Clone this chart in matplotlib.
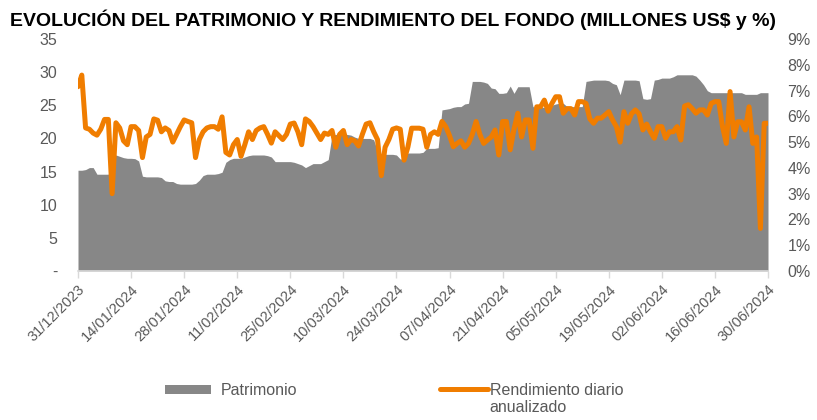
import matplotlib
matplotlib.use("Agg")
import matplotlib.pyplot as plt
import matplotlib.dates as mdates
from matplotlib.patches import Patch
from matplotlib.lines import Line2D
import pandas as pd

plt.rcParams['font.family'] = ['Liberation Sans', 'DejaVu Sans']

dates = pd.date_range('2023-12-31', '2024-06-30', freq='D')

patrimonio = [
    15.2, 15.2, 15.3, 15.6, 15.6, 14.6, 14.6, 14.6, 14.6, 17.5,
    17.5, 17.3, 17.1, 17.0, 17.0, 16.95, 16.6, 14.3, 14.2, 14.2,
    14.2, 14.2, 14.1, 13.6, 13.5, 13.5, 13.2, 13.1, 13.1, 13.1,
    13.1, 13.2, 13.7, 14.4, 14.6, 14.6, 14.6, 14.7, 14.9, 16.4,
    16.8, 17.0, 17.0, 17.0, 17.2, 17.4, 17.5, 17.5, 17.5, 17.5,
    17.4, 17.2, 16.5, 16.5, 16.5, 16.5, 16.5, 16.4, 16.2, 16.0,
    15.6, 15.9, 16.2, 16.2, 16.2, 16.5, 16.8, 20.5, 20.6, 20.6,
    20.6, 20.6, 20.5, 20.2, 20.0, 20.0, 20.0, 20.0, 19.8, 18.0,
    17.6, 17.6, 17.6, 17.6, 17.5, 16.9, 16.8, 17.8, 17.8, 17.8,
    17.8, 17.9, 18.5, 18.5, 18.5, 18.6, 24.3, 24.4, 24.5, 24.7,
    24.8, 24.8, 25.2, 25.3, 28.6, 28.6, 28.6, 28.5, 28.3, 27.6,
    27.5, 26.8, 26.8, 26.9, 27.9, 26.8, 27.8, 27.8, 27.8, 27.8,
    24.8, 24.7, 24.7, 24.7, 24.8, 25.0, 25.2, 25.3, 25.3, 24.8,
    24.8, 24.8, 24.8, 24.8, 28.6, 28.7, 28.8, 28.8, 28.8, 28.8,
    28.7, 28.3, 28.1, 26.6, 28.8, 28.8, 28.8, 28.8, 28.7, 26.0,
    25.9, 26.0, 28.8, 28.9, 29.1, 29.1, 29.1, 29.3, 29.6, 29.6,
    29.6, 29.6, 29.6, 29.4, 28.8, 28.1, 27.2, 26.9, 26.9, 26.9,
    26.9, 26.9, 26.9, 26.9, 26.9, 26.9, 26.65, 26.65, 26.65, 26.65,
    26.9, 26.9, 26.9,
]

rendimiento = [
    7.15, 7.6, 5.55, 5.5, 5.35, 5.27, 5.5, 5.88, 5.88, 3.0,
    5.75, 5.55, 5.05, 4.9, 5.6, 5.6, 5.45, 4.4, 5.2, 5.3,
    5.9, 5.85, 5.4, 5.55, 5.45, 5.0, 5.3, 5.6, 5.86, 5.8,
    5.75, 4.4, 5.1, 5.4, 5.55, 5.6, 5.6, 5.5, 5.98, 4.6,
    4.5, 4.9, 5.1, 4.45, 4.9, 5.4, 5.1, 5.45, 5.55, 5.6,
    5.3, 4.96, 5.4, 5.25, 5.1, 5.3, 5.7, 5.74, 5.4, 4.9,
    5.9, 5.8, 5.6, 5.35, 5.1, 5.35, 5.3, 5.45, 4.8, 5.3,
    5.45, 4.9, 5.1, 5.05, 4.85, 5.3, 5.7, 5.75, 5.4, 5.1,
    3.7, 4.8, 5.1, 5.5, 5.55, 5.5, 4.3, 4.8, 5.54, 5.54,
    5.54, 5.5, 4.8, 5.3, 5.4, 5.3, 5.8, 5.6, 5.25, 4.82,
    4.95, 5.05, 4.8, 4.95, 5.3, 5.8, 5.3, 4.95, 5.08, 5.2,
    5.47, 4.5, 5.8, 5.8, 4.7, 5.5, 6.12, 5.2, 5.86, 5.86,
    4.76, 6.37, 6.37, 6.63, 6.2, 6.5, 6.76, 6.76, 6.12, 6.3,
    6.3, 6.05, 6.57, 6.57, 6.5, 5.9, 5.73, 5.93, 5.93, 6.05,
    6.18, 5.86, 5.6, 5.0, 6.18, 5.73, 6.1, 6.25, 6.1, 5.47,
    5.7, 5.4, 5.15, 5.6, 5.6, 5.15, 5.4, 5.4, 5.6, 5.08,
    6.4, 6.45, 6.3, 6.12, 6.25, 6.25, 6.05, 6.5, 6.57, 6.57,
    5.6, 4.95, 6.96, 5.2, 5.79, 5.79, 5.47, 6.37, 4.95, 5.2,
    1.65, 5.73, 5.73,
]

left_ticks = [0, 5, 10, 15, 20, 25, 30, 35]
left_labels = ['-', '5', '10', '15', '20', '25', '30', '35']
right_ticks = [0, 1, 2, 3, 4, 5, 6, 7, 8, 9]
right_labels = ['0%', '1%', '2%', '3%', '4%', '5%', '6%', '7%', '8%', '9%']
x_ticks = pd.date_range('2023-12-31', '2024-06-30', freq='14D')

title = 'EVOLUCIÓN DEL PATRIMONIO Y RENDIMIENTO DEL FONDO (MILLONES US$ y %)'
label_pat = 'Patrimonio'
label_ren = 'Rendimiento diario\nanualizado'

GRAY = '#878787'
ORANGE = '#F07D00'
TXT = '#595959'

fig = plt.figure(figsize=(8.17, 4.20), dpi=100)
ax = fig.add_axes([78/817, 1-271/420, 690/817, 232/420])
ax.fill_between(dates, 0, patrimonio, color=GRAY, lw=0, zorder=1)
ax.set_ylim(0, 35)
ax.set_xlim(dates[0], dates[-1])
ax.set_yticks(left_ticks)
ax.set_yticklabels(left_labels)
ax.tick_params(axis='y', length=0, pad=15, labelsize=11.5, labelcolor=TXT)

ax.set_xticks(x_ticks)
ax.xaxis.set_major_formatter(mdates.DateFormatter('%d/%m/%Y'))
ax.tick_params(axis='x', length=5, color='#D9D9D9', width=1, labelsize=10.5,
               labelcolor=TXT, pad=3)
for lab in ax.get_xticklabels():
    lab.set_rotation(45)
    lab.set_ha('right')
    lab.set_rotation_mode('anchor')
for s in ['top', 'right', 'left']:
    ax.spines[s].set_visible(False)
ax.spines['bottom'].set_color('#D9D9D9')
ax.spines['bottom'].set_linewidth(1.2)

ax2 = ax.twinx()
ax2.plot(dates, rendimiento, color=ORANGE, lw=3.6, solid_capstyle='round',
         solid_joinstyle='round', zorder=3)
ax2.set_ylim(0, 9)
ax2.set_yticks(right_ticks)
ax2.set_yticklabels(right_labels)
ax2.tick_params(axis='y', length=0, pad=14, labelsize=11.5, labelcolor=TXT)
for s in ['top', 'right', 'left', 'bottom']:
    ax2.spines[s].set_visible(False)
ax2.set_xlim(dates[0], dates[-1])

fig.text(10/817, 1-20/420, title, fontsize=14, fontweight='bold',
         color='black', ha='left', va='center')

h1 = Patch(facecolor=GRAY, edgecolor='none')
leg1 = fig.legend([h1], [label_pat], loc='upper left',
                  bbox_to_anchor=(165/817, 1-383/420), frameon=False,
                  fontsize=11.5, handlelength=2.9, handleheight=0.55,
                  handletextpad=0.6, borderpad=0, borderaxespad=0, labelcolor=TXT)
h2 = Line2D([], [], color=ORANGE, lw=3.6, solid_capstyle='round')
leg2 = fig.legend([h2], [label_ren], loc='upper left',
                  bbox_to_anchor=(440/817, 1-383/420), frameon=False,
                  fontsize=11.5, handlelength=3.0, handletextpad=0.1,
                  borderpad=0, borderaxespad=0, labelcolor=TXT)
try:
    item = leg2._legend_handle_box.get_children()[0].get_children()[0]
    item.align = 'top'
except Exception:
    pass

fig.savefig('out.png', dpi=100)
